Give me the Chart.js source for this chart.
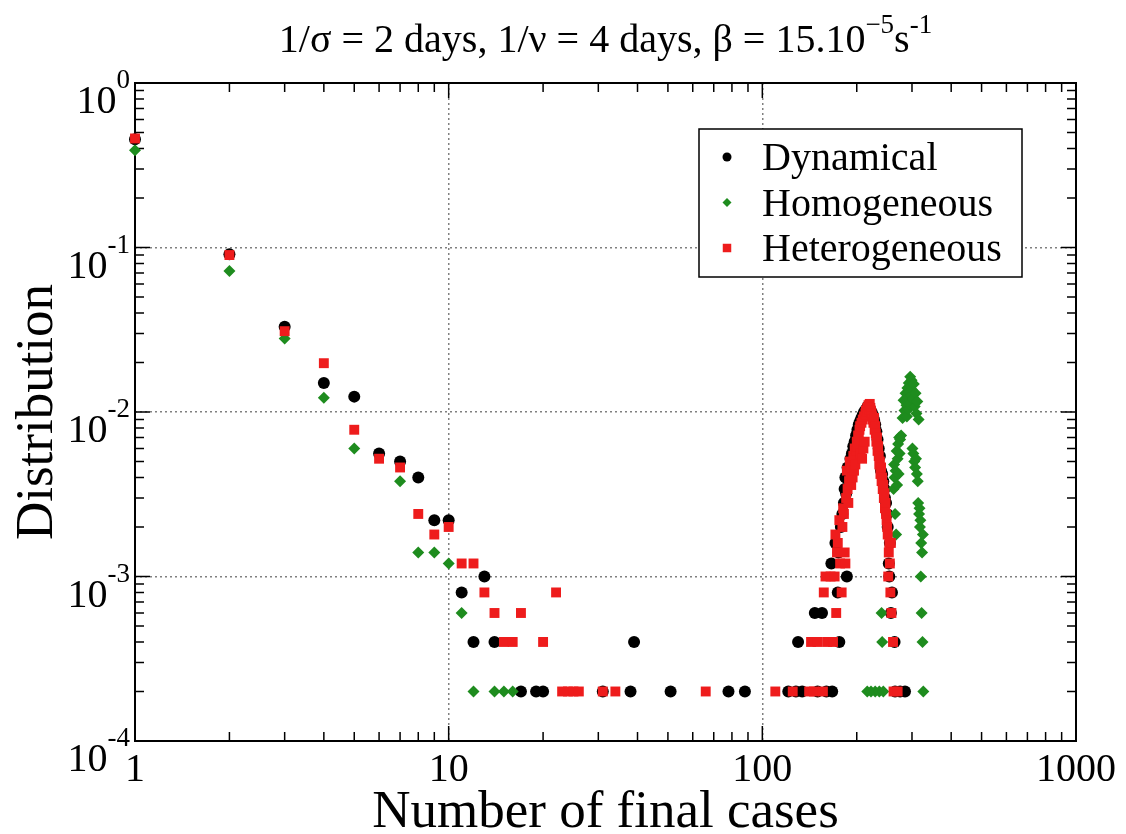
<!DOCTYPE html>
<html>
<head>
<meta charset="utf-8">
<script src="https://cdn.jsdelivr.net/npm/chart.js@4.4.0/dist/chart.umd.min.js"></script>
<style>
  html, body { margin: 0; padding: 0; background: #fff; }
</style>
</head>
<body>
<canvas id="finalCasesChart" width="1126" height="834"></canvas>
<script>
const seriesNames = ['Dynamical', 'Homogeneous', 'Heterogeneous'];
const titleParts = [['1/σ = 2 days, 1/ν = 4 days, β = 15.10', false], ['−5', true], ['s', false], ['-1', true]];
const xTitle = 'Number of final cases';
const yTitle = 'Distribution';
const xTickValues = [1, 10, 100, 1000];
const xTickLabels = ['1', '10', '100', '1000'];
const yTickValues = [1, 0.1, 0.01, 0.001, 0.0001];
const yTickExps = ['0', '-1', '-2', '-3', '-4'];

// Dynamical (black circles)
const dynN = [1, 2, 3, 4, 5, 6, 7, 8, 9, 10, 11, 12, 13, 14, 17, 19, 20, 31, 38, 39, 51, 78, 88,
  121, 128, 130, 134, 147, 150, 155, 160, 166, 167, 171, 174, 175, 176, 178, 180, 182, 183, 184, 185, 186, 187, 189,
  191, 193, 195, 197, 199, 201, 203, 205, 207, 209, 211, 214, 217, 220, 223, 225, 227, 229, 231, 233, 235, 237, 239,
  241, 243, 245, 246, 248, 250, 251, 253, 254, 255, 257, 259, 264, 265, 275, 285];
const dynP = [0.455, 0.091, 0.033, 0.015, 0.0124, 0.0056, 0.005, 0.004, 0.0022, 0.0022, 0.0008, 0.0004, 0.001, 0.0004, 0.0002, 0.0002, 0.0002, 0.0002, 0.0002, 0.0004, 0.0002, 0.0002, 0.0002,
  0.0002, 0.0002, 0.0004, 0.0002, 0.0006, 0.0002, 0.0006, 0.0002, 0.0012, 0.0002, 0.0016, 0.0008, 0.0014, 0.0004, 0.002, 0.0024, 0.0028, 0.0034, 0.004, 0.0032, 0.001, 0.0046, 0.0042,
  0.0052, 0.0056, 0.0062, 0.0066, 0.0072, 0.0078, 0.0084, 0.0088, 0.0092, 0.0096, 0.01, 0.0104, 0.0108, 0.0104, 0.01, 0.0096, 0.009, 0.0084, 0.0076, 0.0068, 0.006, 0.0054, 0.0044,
  0.0042, 0.0038, 0.0034, 0.003, 0.0028, 0.0024, 0.002, 0.0012, 0.001, 0.0016, 0.0006, 0.0008, 0.0004, 0.0002, 0.0002, 0.0002];

// Homogeneous (green diamonds)
const homN = [1, 2, 3, 4, 5, 7, 8, 9, 10, 11, 12, 14, 15, 16,
  216, 222, 229, 236, 240, 241, 243, 262, 263, 264, 265, 266, 267, 268, 269, 270, 271, 272, 273, 274, 275, 277,
  280, 282, 284, 286, 288, 289, 290, 291, 292, 293, 294, 295, 296, 297, 298, 299, 300, 301, 302, 303, 304, 305,
  306, 307, 308, 309, 310, 311, 312, 313, 314, 315, 316, 317, 318, 319, 320, 321, 322, 323, 324, 325, 326];
const homP = [0.39, 0.072, 0.028, 0.0122, 0.006, 0.0038, 0.0014, 0.0014, 0.0012, 0.0006, 0.0002, 0.0002, 0.0002, 0.0002,
  0.0002, 0.0002, 0.0002, 0.0002, 0.0006, 0.0004, 0.0002, 0.0034, 0.0048, 0.004, 0.0024, 0.0044, 0.0018, 0.0058, 0.0036, 0.0052, 0.0064, 0.0042, 0.007, 0.0056, 0.0068, 0.0072,
  0.0092, 0.0118, 0.0102, 0.013, 0.011, 0.0094, 0.014, 0.0122, 0.0104, 0.015, 0.0132, 0.0112, 0.0164, 0.0144, 0.0126, 0.0156, 0.0136, 0.006, 0.012, 0.0056, 0.0148, 0.005,
  0.0108, 0.0046, 0.013, 0.0052, 0.0098, 0.0042, 0.0116, 0.0038, 0.0028, 0.009, 0.0024, 0.0026, 0.002, 0.0022, 0.001, 0.0016, 0.0006, 0.0014, 0.0004, 0.0018, 0.0002];

// Heterogeneous (red squares)
const hetN = [1, 2, 3, 4, 5, 6, 7, 8, 9, 10, 11, 12, 13, 14, 15, 16, 17, 20, 22, 23, 24, 25, 26, 31, 34, 66,
  110, 125, 141, 143, 146, 150, 156, 157, 159, 161, 165, 168, 170, 171, 172, 173, 174, 176, 177, 179, 180,
  181, 182, 183, 184, 185, 186, 187, 188, 189, 190, 191, 192, 193, 194, 195, 196, 197, 198, 199, 200,
  201, 202, 203, 204, 205, 206, 207, 208, 209, 210, 211, 212, 213, 214, 215, 216, 217, 218, 219, 220,
  221, 222, 223, 224, 225, 226, 227, 228, 229, 230, 231, 232, 233, 234, 235, 236, 237, 238, 239, 240,
  241, 242, 243, 244, 245, 246, 247, 248, 249, 250, 251, 252, 253, 254, 255, 256, 257, 258, 261, 262, 270];
const hetP = [0.46, 0.09, 0.031, 0.0198, 0.0078, 0.0052, 0.0046, 0.0024, 0.0018, 0.002, 0.0012, 0.0012, 0.0008, 0.0006, 0.0004, 0.0004, 0.0006, 0.0004, 0.0008, 0.0002, 0.0002, 0.0002, 0.0002, 0.0002, 0.0002, 0.0002,
  0.0002, 0.0002, 0.0002, 0.0004, 0.0002, 0.0004, 0.0002, 0.0008, 0.001, 0.0004, 0.001, 0.0004, 0.001, 0.0018, 0.0006, 0.0014, 0.0016, 0.0022, 0.0012, 0.0008, 0.002,
  0.0026, 0.0024, 0.0014, 0.0012, 0.003, 0.0044, 0.0034, 0.0028, 0.0038, 0.005, 0.0042, 0.0036, 0.0046, 0.004, 0.0054, 0.0044, 0.006, 0.0048, 0.0058, 0.0066,
  0.0062, 0.0072, 0.007, 0.0078, 0.0082, 0.0056, 0.0086, 0.0052, 0.009, 0.006, 0.0094, 0.0066, 0.0098, 0.0102, 0.0096, 0.0106, 0.01, 0.011, 0.0104, 0.0112,
  0.0106, 0.0102, 0.0098, 0.0094, 0.009, 0.0086, 0.0092, 0.0078, 0.0082, 0.0074, 0.0066, 0.007, 0.0058, 0.0062, 0.0054, 0.0048, 0.005, 0.0042, 0.0046, 0.0038,
  0.004, 0.0034, 0.0036, 0.003, 0.0032, 0.0026, 0.0028, 0.0024, 0.0022, 0.002, 0.0018, 0.001, 0.0014, 0.0016, 0.0012, 0.0008, 0.0016, 0.0006, 0.0004, 0.0002, 0.0002];

const SERIF = '"Liberation Serif", "Times New Roman", serif';

function toPoints(ns, ps) {
  return ns.map((n, i) => ({ x: n, y: ps[i] }));
}

function isDecade(v) {
  const l = Math.log10(v);
  return Math.abs(l - Math.round(l)) < 1e-9;
}

// box, inward ticks, tick labels, axis titles, title and legend
const framePlugin = {
  id: 'frame',
  beforeDatasetsDraw(chart) {
    const { ctx, chartArea: a, scales: { x, y } } = chart;
    ctx.save();
    ctx.strokeStyle = '#000';
    ctx.lineWidth = 1.5;
    ctx.beginPath();
    for (let d = 1; d < 1000; d *= 10) {
      for (let m = 1; m <= 9; m++) {
        const px = x.getPixelForValue(m * d);
        const len = m === 1 ? 15 : 9;
        ctx.moveTo(px, a.bottom); ctx.lineTo(px, a.bottom - len);
        ctx.moveTo(px, a.top); ctx.lineTo(px, a.top + len);
      }
    }
    for (let e = -4; e < 0; e++) {
      for (let m = 1; m <= 9; m++) {
        const py = y.getPixelForValue(m * Math.pow(10, e));
        const len = m === 1 ? 15 : 9;
        ctx.moveTo(a.left, py); ctx.lineTo(a.left + len, py);
        ctx.moveTo(a.right, py); ctx.lineTo(a.right - len, py);
      }
    }
    ctx.stroke();
    ctx.lineWidth = 2;
    ctx.strokeRect(a.left, a.top, a.right - a.left, a.bottom - a.top);
    ctx.restore();
  },
  afterDraw(chart) {
    const { ctx, chartArea: a, scales: { x, y } } = chart;
    ctx.save();
    ctx.fillStyle = '#000';

    // x tick labels
    ctx.font = '40px ' + SERIF;
    ctx.textAlign = 'center';
    ctx.textBaseline = 'alphabetic';
    xTickValues.forEach((v, i) => {
      ctx.fillText(xTickLabels[i], x.getPixelForValue(v), a.bottom + 40);
    });

    // y tick labels 10^n
    ctx.textAlign = 'left';
    yTickValues.forEach((v, i) => {
      const py = y.getPixelForValue(v);
      ctx.font = '27px ' + SERIF;
      const we = ctx.measureText(yTickExps[i]).width;
      ctx.font = '40px ' + SERIF;
      const wb = ctx.measureText('10').width;
      const right = a.left - 5;
      ctx.fillText('10', right - we - wb, py + 30);
      ctx.font = '27px ' + SERIF;
      ctx.fillText(yTickExps[i], right - we, py + 5);
    });

    // axis titles
    ctx.font = '53px ' + SERIF;
    ctx.textAlign = 'center';
    ctx.fillText(xTitle, (a.left + a.right) / 2, 827);
    ctx.save();
    ctx.translate(52, (a.top + a.bottom) / 2);
    ctx.rotate(-Math.PI / 2);
    ctx.fillText(yTitle, 0, 0);
    ctx.restore();

    // title with superscripts
    let total = 0;
    titleParts.forEach(([t, sup]) => {
      ctx.font = (sup ? '27px ' : '40px ') + SERIF;
      total += ctx.measureText(t).width;
    });
    let tx = (a.left + a.right) / 2 - total / 2;
    ctx.textAlign = 'left';
    titleParts.forEach(([t, sup]) => {
      ctx.font = (sup ? '27px ' : '40px ') + SERIF;
      ctx.fillText(t, tx, sup ? 33 : 52);
      tx += ctx.measureText(t).width;
    });

    // legend box
    const bx = 699, by = 129, bw = 323, bh = 148;
    ctx.fillStyle = '#fff';
    ctx.fillRect(bx, by, bw, bh);
    ctx.strokeStyle = '#000';
    ctx.lineWidth = 1.5;
    ctx.strokeRect(bx, by, bw, bh);
    chart.data.datasets.forEach((ds, i) => {
      const cy = 157 + i * 45.5;
      ctx.fillStyle = ds.backgroundColor;
      Chart.helpers.drawPoint(ctx, { pointStyle: ds.pointStyle, radius: ds.pointStyle === 'rect' ? 6 : 4.5, rotation: 0, borderWidth: 0 }, 727, cy);
      ctx.fillStyle = '#000';
      ctx.font = '40px ' + SERIF;
      ctx.textAlign = 'left';
      ctx.fillText(ds.label, 762, cy + 13);
    });
    ctx.restore();
  }
};

const gridColor = (c) => (c.tick && isDecade(c.tick.value) ? '#808080' : 'rgba(0,0,0,0)');

const ctxCases = document.getElementById('finalCasesChart').getContext('2d');
const finalCasesChart = new Chart(ctxCases, {
  type: 'scatter',
  data: {
    datasets: [{
      label: seriesNames[0],
      data: toPoints(dynN, dynP),
      pointStyle: 'circle',
      pointRadius: 6,
      backgroundColor: '#000000',
      borderWidth: 0,
      order: 3,
      clip: false
    }, {
      label: seriesNames[1],
      data: toPoints(homN, homP),
      pointStyle: 'rectRot',
      pointRadius: 6,
      backgroundColor: '#1e8c1e',
      borderWidth: 0,
      order: 2,
      clip: false
    }, {
      label: seriesNames[2],
      data: toPoints(hetN, hetP),
      pointStyle: 'rect',
      pointRadius: 7,
      backgroundColor: '#ee1c1c',
      borderWidth: 0,
      order: 1,
      clip: false
    }]
  },
  options: {
    responsive: false,
    animation: false,
    events: [],
    layout: {
      padding: { left: 135, right: 50, top: 83, bottom: 93 }
    },
    plugins: {
      legend: { display: false },
      title: { display: false },
      tooltip: { enabled: false }
    },
    scales: {
      x: {
        type: 'logarithmic',
        min: 1,
        max: 1000,
        ticks: { display: false },
        grid: { color: gridColor, lineWidth: 1.5, drawTicks: false },
        border: { display: false, dash: [2, 3] }
      },
      y: {
        type: 'logarithmic',
        min: 0.0001,
        max: 1,
        ticks: { display: false },
        grid: { color: gridColor, lineWidth: 1.5, drawTicks: false },
        border: { display: false, dash: [2, 3] }
      }
    }
  },
  plugins: [framePlugin]
});
</script>
</body>
</html>
